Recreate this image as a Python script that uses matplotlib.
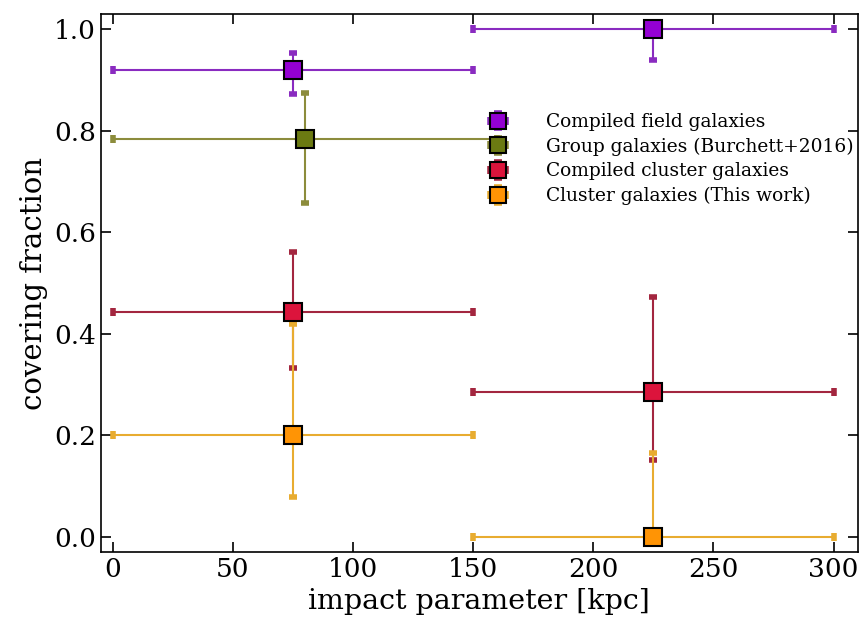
import matplotlib
matplotlib.use("Agg")
import matplotlib.pyplot as plt
from matplotlib.legend_handler import HandlerErrorbar
from matplotlib.container import ErrorbarContainer
import numpy as np

plt.rcParams['font.family'] = ['DejaVu Serif']

# Compiled field galaxies
field_x = [75, 225]
field_y = [0.921, 1.0]
field_xerr = [75, 75]
field_ylo = [0.049, 0.061]
field_yhi = [0.032, 0.0]

# Group galaxies (Burchett+2016)
group_x = [80]
group_y = [0.785]
group_xerr = [80]
group_ylo = [0.126]
group_yhi = [0.089]

# Compiled cluster galaxies
ccl_x = [75, 225]
ccl_y = [0.444, 0.286]
ccl_xerr = [75, 75]
ccl_ylo = [0.111, 0.134]
ccl_yhi = [0.118, 0.187]

# Cluster galaxies (This work)
cl_x = [75, 225]
cl_y = [0.2, 0.0]
cl_xerr = [75, 75]
cl_ylo = [0.121, 0.0]
cl_yhi = [0.22, 0.166]

labels = ['Compiled field galaxies', 'Group galaxies (Burchett+2016)',
          'Compiled cluster galaxies', 'Cluster galaxies (This work)']

fig = plt.figure(figsize=(8.68, 6.19), dpi=100)
ax = fig.add_axes([0.116, 0.108, 0.872, 0.869])

common = dict(fmt='s', markersize=13, markeredgecolor='black',
              elinewidth=1.5, capsize=3.0, capthick=4.0)

series = [
    (field_x, field_y, field_xerr, field_ylo, field_yhi, '#9400D3', '#8a2bc0'),
    (group_x, group_y, group_xerr, group_ylo, group_yhi, '#6b7a12', '#8c8c3c'),
    (ccl_x, ccl_y, ccl_xerr, ccl_ylo, ccl_yhi, '#dc143c', '#a3263f'),
    (cl_x, cl_y, cl_xerr, cl_ylo, cl_yhi, '#ff9405', '#e8ac30'),
]
for (x, y, xe, ylo, yhi, c, ec), lab in zip(series, labels):
    eb = ax.errorbar(x, y, xerr=xe, yerr=[ylo, yhi], color=c, ecolor=ec,
                     label=lab, **common)
    eb[0].set_markeredgewidth(1.5)
    for cap in eb[1]:
        cap.set_markeredgewidth(4.0)

ax.set_xlim(-5, 310)
ax.set_ylim(-0.03, 1.03)
ax.set_xticks([0, 50, 100, 150, 200, 250, 300])
ax.set_yticks([0.0, 0.2, 0.4, 0.6, 0.8, 1.0])
ax.tick_params(direction='in', top=True, right=True, length=7, width=1.2,
               labelsize=19)
ax.set_xlabel('impact parameter [kpc]', fontsize=20.5)
ax.set_ylabel('covering fraction', fontsize=21)
for s in ax.spines.values():
    s.set_linewidth(1.2)

ax.legend(loc='upper left', bbox_to_anchor=(0.495, 0.823), frameon=False,
          numpoints=1, fontsize=13.4, handletextpad=1.6, labelspacing=0.35,
          borderaxespad=0.0, borderpad=0.2, markerscale=0.85,
          handler_map={ErrorbarContainer: HandlerErrorbar(xerr_size=0.42,
                                                          yerr_size=0.42)})

fig.savefig('out.png', dpi=100)
